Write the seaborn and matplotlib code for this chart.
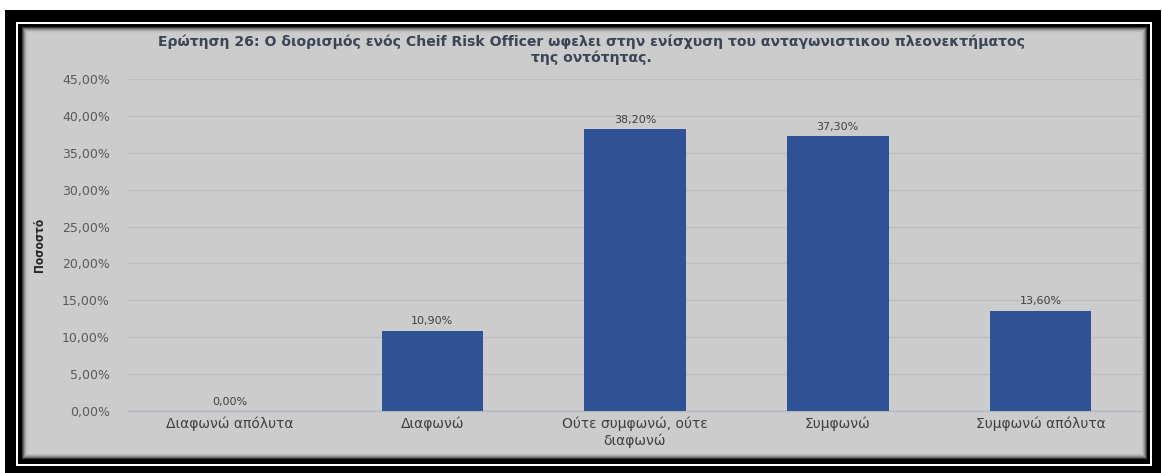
import matplotlib
matplotlib.use("Agg")
import matplotlib.pyplot as plt
import seaborn as sns
import pandas as pd
from matplotlib.patches import Rectangle
from matplotlib.ticker import FuncFormatter

categories = ["Διαφωνώ απόλυτα", "Διαφωνώ", "Ούτε συμφωνώ, ούτε\nδιαφωνώ", "Συμφωνώ", "Συμφωνώ απόλυτα"]
values = [0.0, 10.9, 38.2, 37.3, 13.6]
yticks = [0, 5, 10, 15, 20, 25, 30, 35, 40, 45]
title = "Ερώτηση 26: Ο διορισμός ενός Cheif Risk Officer ωφελει στην ενίσχυση του ανταγωνιστικου πλεονεκτήματος\nτης οντότητας."
ylabel = "Ποσοστό"

df = pd.DataFrame({"cat": categories, "val": values})

sns.set_style("white")
plt.rcParams['font.family'] = ['DejaVu Sans']

W, H = 1162, 473
fig = plt.figure(figsize=(W / 100, H / 100), dpi=100)
fig.patch.set_facecolor("white")

def frect(x0, y0, x1, y1, color, z):
    fig.patches.append(Rectangle((x0 / W, 1 - y1 / H), (x1 - x0) / W, (y1 - y0) / H,
                                 transform=fig.transFigure, facecolor=color,
                                 edgecolor="none", zorder=z))

frect(5, 10, 1161, 473, "black", 0)
frect(16, 22, 1152, 466, "white", 1)
frect(18, 24, 1150, 464, "black", 2)
shades = ["#3a3a3a", "#6a6a6a", "#8f8f8f", "#aaaaaa", "#bdbdbd", "#c7c7c7"]
for i, c in enumerate(shades):
    frect(22 + i, 27 + i, 1147 - i, 459 - i, c, 3 + i)
frect(28, 33, 1141, 453, "#cccccc", 10)

ax = fig.add_axes([128 / W, 1 - 411 / H, (1142 - 128) / W, (411 - 79) / H])
ax.set_facecolor("none")
ax.set_zorder(20)

sns.barplot(data=df, x="cat", y="val", color="#2f5297", saturation=1, width=0.5, ax=ax,
            zorder=3, edgecolor="none", linewidth=0)

ax.set_ylim(0, 45)
ax.set_yticks(yticks)
ax.yaxis.set_major_formatter(FuncFormatter(lambda v, p: f"{v:.2f}%".replace(".", ",")))
ax.grid(axis="y", color="#bbbec5", linewidth=1, zorder=0)
ax.set_axisbelow(True)
for s in ["top", "right", "left"]:
    ax.spines[s].set_visible(False)
ax.spines["bottom"].set_color("#b4b8c0")
ax.spines["bottom"].set_linewidth(1)
ax.tick_params(axis="y", length=0, pad=13, labelsize=9, labelcolor="#595959")
ax.tick_params(axis="x", length=0, pad=4, labelsize=10, labelcolor="#404040")
ax.set_xlabel("")
ax.set_ylabel("")

for i, v in enumerate(values):
    ax.annotate(f"{v:.2f}%".replace(".", ","), (i, v), xytext=(0, 3), textcoords="offset points",
                ha="center", va="bottom", fontsize=8, color="#404040")

fig.text(40 / W, 1 - 245 / H, ylabel, rotation=90, ha="center", va="center",
         fontsize=8.5, fontweight="bold", color="#262626", fontstretch="condensed", zorder=30)
fig.text(591 / W, 1 - 50 / H, title, ha="center", va="center", fontsize=10.1,
         fontweight="bold", color="#3b4556", linespacing=1.12, zorder=30)

fig.savefig("out.png", dpi=100, facecolor=fig.get_facecolor())
